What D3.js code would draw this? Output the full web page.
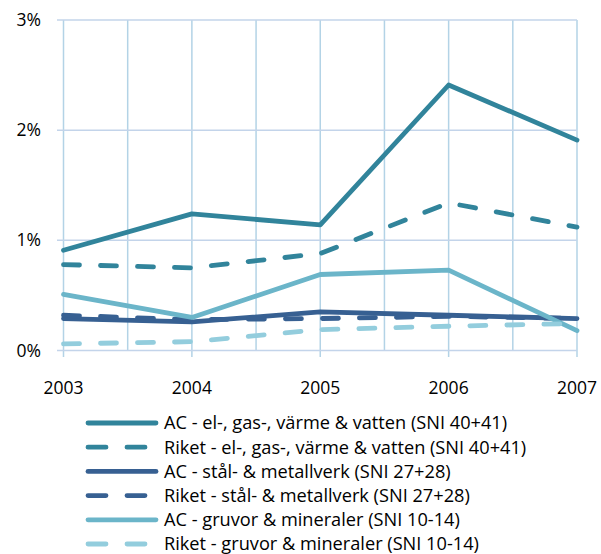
<!DOCTYPE html>
<html>
  <head>
    <meta charset="utf-8">
    <style>
      html, body {
        margin: 0px;
        padding: 0px;
        background: #fff;
      }
      svg {
        display: block;
      }
      text {
        font-family: "Open Sans", "Noto Sans", sans-serif;
        fill: #000;
      }
    </style>
  </head>
  <body>
    <svg id="chart" width="601" height="554"></svg>
    <script src="https://cdnjs.cloudflare.com/ajax/libs/d3/7.8.5/d3.min.js" charset="utf-8"></script>
    <script>
      // years on the x axis
      var years = [2003, 2004, 2005, 2006, 2007];
      var yTicks = [0, 1, 2, 3];

      // values in percent
      var acEl = [0.91, 1.24, 1.14, 2.41, 1.91];
      var riketEl = [0.78, 0.75, 0.88, 1.34, 1.12];
      var acStal = [0.29, 0.26, 0.35, 0.32, 0.29];
      var riketStal = [0.32, 0.28, 0.29, 0.31, 0.29];
      var acGruvor = [0.51, 0.30, 0.69, 0.73, 0.18];
      var riketGruvor = [0.06, 0.08, 0.19, 0.22, 0.245];

      var seriesNames = [
        "AC - el-, gas-, värme & vatten (SNI 40+41)",
        "Riket - el-, gas-, värme & vatten (SNI 40+41)",
        "AC - stål- & metallverk (SNI 27+28)",
        "Riket - stål- & metallverk (SNI 27+28)",
        "AC - gruvor & mineraler (SNI 10-14)",
        "Riket - gruvor & mineraler (SNI 10-14)"
      ];

      var series = [
        {name: seriesNames[0], values: acEl, color: "#31849b", dashed: false},
        {name: seriesNames[1], values: riketEl, color: "#31849b", dashed: true},
        {name: seriesNames[2], values: acStal, color: "#376092", dashed: false},
        {name: seriesNames[3], values: riketStal, color: "#376092", dashed: true},
        {name: seriesNames[4], values: acGruvor, color: "#6bb5c9", dashed: false},
        {name: seriesNames[5], values: riketGruvor, color: "#93cddd", dashed: true}
      ];

      var svg = d3.select("#chart");
      var x = d3.scaleLinear().domain([2003, 2007]).range([63.5, 577]);
      var y = d3.scaleLinear().domain([0, 3]).range([350.5, 20]);

      var grid = svg.append("g");
      // vertical gridlines every half year
      d3.range(2003, 2007.01, 0.5).forEach(function (v) {
        var major = Math.abs(v - Math.round(v)) < 0.01;
        grid.append("line")
          .attr("x1", x(v)).attr("x2", x(v))
          .attr("y1", y(3)).attr("y2", major ? 357 : y(0))
          .attr("stroke", "#b3d3e6")
          .attr("stroke-width", 1.5);
      });
      yTicks.forEach(function (v) {
        grid.append("line")
          .attr("x1", 57).attr("x2", x(2007))
          .attr("y1", y(v)).attr("y2", y(v))
          .attr("stroke", "#c3d4ea")
          .attr("stroke-width", 1.5);
      });

      // y labels
      svg.append("g").selectAll("text")
        .data(yTicks)
        .enter().append("text")
        .attr("x", 41)
        .attr("y", function (d) { return y(d); })
        .attr("dy", "0.35em")
        .attr("text-anchor", "end")
        .style("font-size", "17.5px")
        .text(function (d) { return d + "%"; });

      // x labels
      svg.append("g").selectAll("text")
        .data(years)
        .enter().append("text")
        .attr("x", function (d) { return x(d); })
        .attr("y", 388)
        .attr("dy", "0.35em")
        .attr("text-anchor", "middle")
        .style("font-size", "17.5px")
        .text(function (d) { return d; });

      var line = d3.line()
        .x(function (d, i) { return x(years[i]); })
        .y(function (d) { return y(d); });

      svg.append("g").selectAll("path")
        .data(series)
        .enter().append("path")
        .attr("d", function (d) { return line(d.values); })
        .attr("fill", "none")
        .attr("stroke", function (d) { return d.color; })
        .attr("stroke-width", 4.8)
        .attr("stroke-linecap", "round")
        .attr("stroke-linejoin", "round")
        .attr("stroke-dasharray", function (d) { return d.dashed ? "16,21" : null; });

      // legend
      var legend = svg.append("g");
      series.forEach(function (s, i) {
        var ly = 423 + i * 24.2;
        legend.append("line")
          .attr("x1", 88).attr("x2", 156)
          .attr("y1", ly).attr("y2", ly)
          .attr("stroke", s.color)
          .attr("stroke-width", 4.8)
          .attr("stroke-linecap", "round")
          .attr("stroke-dasharray", s.dashed ? "18,21" : null);
        legend.append("text")
          .attr("x", 164)
          .attr("y", ly)
          .attr("dy", "0.35em")
          .style("font-size", "18.2px")
          .text(s.name);
      });
    </script>
  </body>
</html>
